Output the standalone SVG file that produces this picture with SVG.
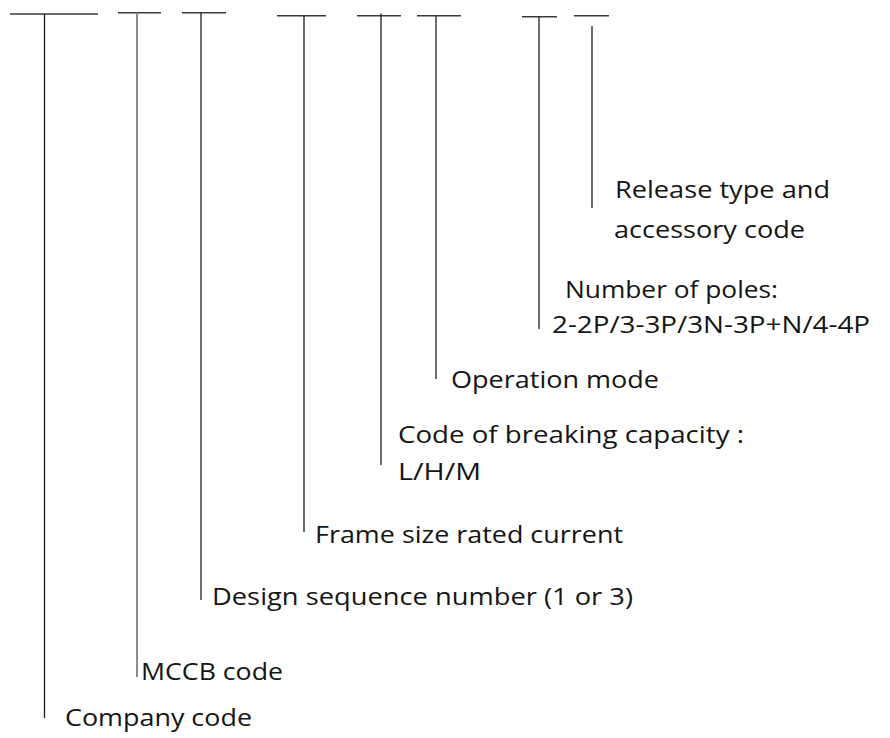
<svg xmlns="http://www.w3.org/2000/svg" width="890" height="738" viewBox="0 0 890 738">
<style>
.ln{stroke:#1e1e1e;stroke-width:1.3;fill:none}
.hz{stroke:#3a3a3a;stroke-width:1.4}
.gray{stroke:#8c8c8c;stroke-width:2}
.lbl{font-family:"Open Sans","Noto Sans",sans-serif;font-size:23px;fill:#151515}
</style>
<rect width="890" height="738" fill="#ffffff"/>
<g id="connectors">
<line class="ln hz" x1="10" y1="14" x2="98" y2="14"/>
<line class="ln" x1="44.5" y1="14" x2="44.5" y2="718"/>
<line class="ln hz" x1="118" y1="12.7" x2="161" y2="12.7"/>
<line class="ln gray" x1="137" y1="12.7" x2="137" y2="677"/>
<line class="ln hz" x1="182" y1="12.7" x2="226" y2="12.7"/>
<line class="ln" x1="201" y1="12.7" x2="201" y2="600"/>
<line class="ln hz" x1="277" y1="15.7" x2="326" y2="15.7"/>
<line class="ln" x1="304" y1="15.7" x2="304" y2="532"/>
<line class="ln hz" x1="357" y1="15.7" x2="401" y2="15.7"/>
<line class="ln" x1="381" y1="13.5" x2="381" y2="465"/>
<line class="ln hz" x1="417" y1="15.7" x2="461" y2="15.7"/>
<line class="ln" x1="436" y1="15.7" x2="436" y2="379"/>
<line class="ln hz" x1="522" y1="16.7" x2="557" y2="16.7"/>
<line class="ln" x1="539" y1="16.7" x2="539" y2="329"/>
<line class="ln hz" x1="574" y1="15.7" x2="609" y2="15.7"/>
<line class="ln" x1="592" y1="26" x2="592" y2="208"/>
</g>
<g id="release">
<text class="lbl" x="615" y="198" textLength="215" lengthAdjust="spacingAndGlyphs">Release type and</text>
<text class="lbl" x="614" y="238" textLength="191" lengthAdjust="spacingAndGlyphs">accessory code</text>
</g>
<g id="poles">
<text class="lbl" x="565" y="298" textLength="213" lengthAdjust="spacingAndGlyphs">Number of poles:</text>
<text class="lbl" x="552" y="333" textLength="318" lengthAdjust="spacingAndGlyphs">2-2P/3-3P/3N-3P+N/4-4P</text>
</g>
<g id="operation">
<text class="lbl" x="451" y="388" textLength="208" lengthAdjust="spacingAndGlyphs">Operation mode</text>
</g>
<g id="breaking">
<text class="lbl" x="398" y="443" textLength="346" lengthAdjust="spacingAndGlyphs">Code of breaking capacity :</text>
<text class="lbl" x="398" y="480" textLength="83" lengthAdjust="spacingAndGlyphs">L/H/M</text>
</g>
<g id="frame">
<text class="lbl" x="315" y="543" textLength="308" lengthAdjust="spacingAndGlyphs">Frame size rated current</text>
</g>
<g id="design">
<text class="lbl" x="212" y="605" textLength="421" lengthAdjust="spacingAndGlyphs">Design sequence number (1 or 3)</text>
</g>
<g id="mccb">
<text class="lbl" x="141" y="680" textLength="142" lengthAdjust="spacingAndGlyphs">MCCB code</text>
</g>
<g id="company">
<text class="lbl" x="65" y="726" textLength="187" lengthAdjust="spacingAndGlyphs">Company code</text>
</g>
</svg>
